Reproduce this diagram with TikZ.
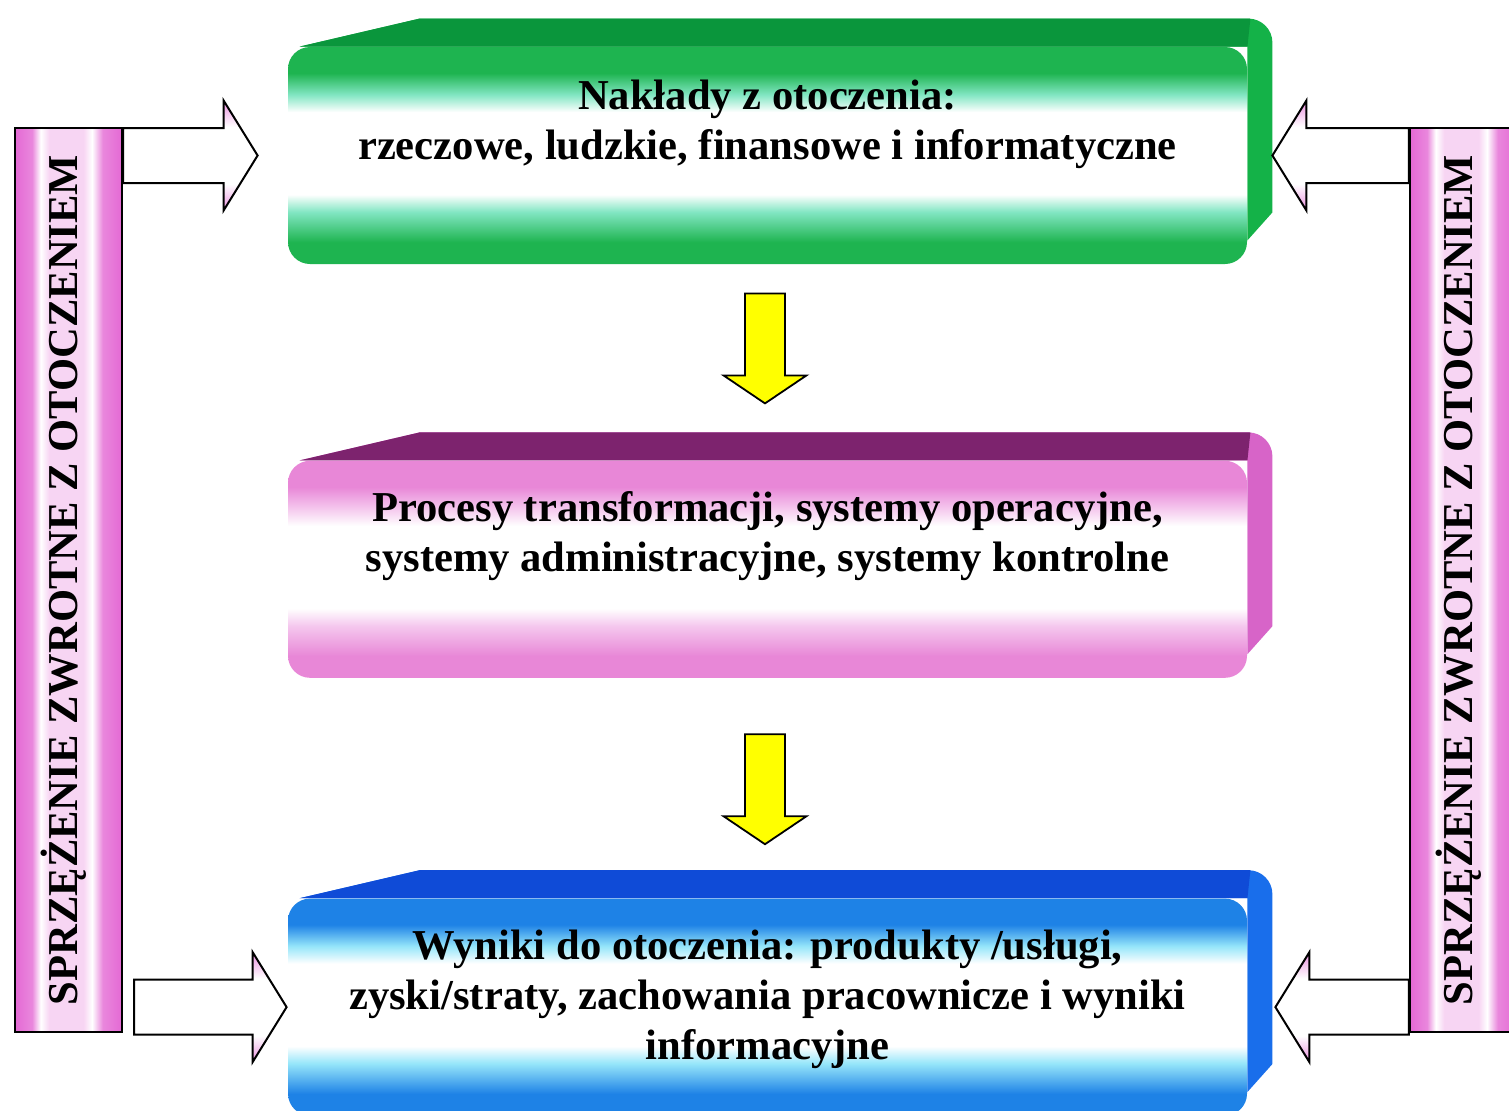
\documentclass[tikz,border=0pt]{standalone}
\usepackage{fontspec}
\setmainfont{Liberation Serif}
\usepackage{graphicx}
\usetikzlibrary{calc,positioning,backgrounds}

\definecolor{nGreen}{RGB}{30,180,80}
\definecolor{nGreenTop}{RGB}{10,150,60}
\definecolor{nGreenSide}{RGB}{20,178,72}
\definecolor{nMint}{RGB}{130,230,195}
\definecolor{nPink}{RGB}{232,135,215}
\definecolor{nPinkTop}{RGB}{125,35,110}
\definecolor{nPinkSide}{RGB}{215,100,200}
\definecolor{nPinkTint}{RGB}{245,200,238}
\definecolor{nBlue}{RGB}{30,130,230}
\definecolor{nBlueTop}{RGB}{15,75,215}
\definecolor{nBlueSide}{RGB}{25,110,235}
\definecolor{nCyan}{RGB}{150,230,250}
\definecolor{nMagenta}{RGB}{228,105,212}
\definecolor{nYellow}{RGB}{255,255,0}

% front faces: colour, tint, white band, tint, colour
\newcommand\slabshading[3]{%
  \pgfdeclareverticalshading{#1}{100bp}{color(0bp)=(#2); color(30bp)=(#2);
    color(37bp)=(#3); color(41bp)=(white); color(60bp)=(white);
    color(64bp)=(#3); color(69bp)=(#2); color(100bp)=(#2)}}
\slabshading{greenface}{nGreen}{nMint}
\slabshading{pinkface}{nPink}{nPinkTint}
\slabshading{blueface}{nBlue}{nCyan}

\pgfdeclarehorizontalshading{barshade}{100bp}{color(0bp)=(nMagenta);
  color(25bp)=(nMagenta); color(33bp)=(nMagenta!80!white); color(37bp)=(white);
  color(41bp)=(nMagenta!28!white); color(57bp)=(nMagenta!28!white);
  color(61bp)=(white); color(66bp)=(nMagenta!80!white); color(75bp)=(nMagenta);
  color(100bp)=(nMagenta)}

\pgfdeclareverticalshading{headshade}{100bp}{color(0bp)=(nMagenta!75!white);
  color(25bp)=(nMagenta!75!white); color(37bp)=(white); color(63bp)=(white);
  color(75bp)=(nMagenta!75!white); color(100bp)=(nMagenta!75!white)}

% top and right bevel behind a face node
\newcommand\slabbevel[3]{%
  \fill[#3] ([xshift=6pt]#1.north west) -- ([xshift=66pt,yshift=14pt]#1.north west)
    -- ([xshift=0.5pt,yshift=14pt]#1.north east)
    arc[start angle=90, end angle=0, radius=12pt]
    -- ([xshift=12.5pt,yshift=26pt]#1.south east)
    -- ([yshift=12pt]#1.south east) -- (#1.north east) -- cycle;
  \fill[#2] ([xshift=6pt]#1.north west) -- ([xshift=66pt,yshift=14pt]#1.north west)
    -- ([xshift=1.5pt,yshift=14pt]#1.north east) -- (#1.north east) -- cycle;}

% hollow block arrow: start, tip, direction (1 right, -1 left)
\newcommand\feedarrow[3]{%
  \filldraw[feed] let \p1=#1, \p2=#2 in
    (\x1,\y1+13.75pt) -- (\x2-#3*17pt,\y1+13.75pt) -- (\x2-#3*17pt,\y1+27.5pt)
    -- (\x2,\y1) -- (\x2-#3*17pt,\y1-27.5pt) -- (\x2-#3*17pt,\y1-13.75pt)
    -- (\x1,\y1-13.75pt) -- cycle;}

\newcommand\fbtext{\rotatebox{90}{\raisebox{2.5pt}[\height][\depth]{SPRZĘŻENIE ZWROTNE Z OTOCZENIEM}}}

\tikzset{
  face/.style={rounded corners=11pt, minimum width=479.5pt, minimum height=108.5pt,
    inner sep=0pt, shade, shading=#1},
  slabtext/.style={align=center, inner sep=0pt,
    font=\bfseries\fontsize{21.3}{25}\selectfont},
  fbbar/.style={draw=black, line width=1.2pt, shade, shading=barshade,
    minimum width=53.5pt, minimum height=452pt, inner sep=0pt,
    font=\bfseries\fontsize{21.3}{25}\selectfont},
  feed/.style={draw=black, line width=1pt, shade, shading=headshade},
  flowarrow/.style={draw=black, line width=0.9pt, fill=nYellow},
  pics/downarrow/.style={code={
    \filldraw[flowarrow] (-10pt,0) -- (10pt,0) -- (10pt,-41pt) -- (20.75pt,-41pt)
      -- (0,-55pt) -- (-20.75pt,-41pt) -- (-10pt,-41pt) -- cycle;}}
}

\begin{document}
\begin{tikzpicture}[x=0.5pt,y=-0.5pt]
  \useasboundingbox (0,0) rectangle (1509,1110);

  % the three stages
  \node[face=greenface] (inputs) at (767.5,155.5) {};
  \node[face=pinkface] (process) [below=98pt of inputs] {};
  \node[face=blueface] (outputs) [below=110pt of process] {};

  \begin{pgfonlayer}{background}
    \fill[white] (0,0) rectangle (1509,1110);
    \slabbevel{inputs}{nGreenTop}{nGreenSide}
    \slabbevel{process}{nPinkTop}{nPinkSide}
    \slabbevel{outputs}{nBlueTop}{nBlueSide}
  \end{pgfonlayer}

  \node[slabtext] (inputstext) at ($(inputs.center)+(0,-31)$)
    {Nakłady z otoczenia:\\rzeczowe, ludzkie, finansowe i informatyczne};
  \node[slabtext] (processtext) at ($(process.center)+(0,-33)$)
    {Procesy transformacji, systemy operacyjne,\\systemy administracyjne, systemy kontrolne};
  \node[slabtext] (outputstext) at ($(outputs.center)+(0,-8)$)
    {Wyniki do otoczenia: produkty /usługi,\\zyski/straty, zachowania pracownicze i wyniki\\informacyjne};

  % flow between stages
  \pic at ($(inputs.south)+(-2.5,29)$) {downarrow};
  \pic at ($(process.south)+(-2.5,56)$) {downarrow};

  % feedback bars
  \node[fbbar] (fbleft) at (68.5,580) {\fbtext};
  \node[fbbar] (fbright) at (1463.5,580) {\fbtext};

  \feedarrow{(fbleft.east |- inputs.west)}{($(inputs.west)+(-30,0)$)}{1}
  \feedarrow{(fbright.west |- inputs.east)}{($(inputs.east)+(25,0)$)}{-1}
  \feedarrow{($(fbleft.east |- outputs.west)+(11,0)$)}{($(outputs.west)+(-1,0)$)}{1}
  \feedarrow{(fbright.west |- outputs.east)}{($(outputs.east)+(28,0)$)}{-1}
\end{tikzpicture}
\end{document}
